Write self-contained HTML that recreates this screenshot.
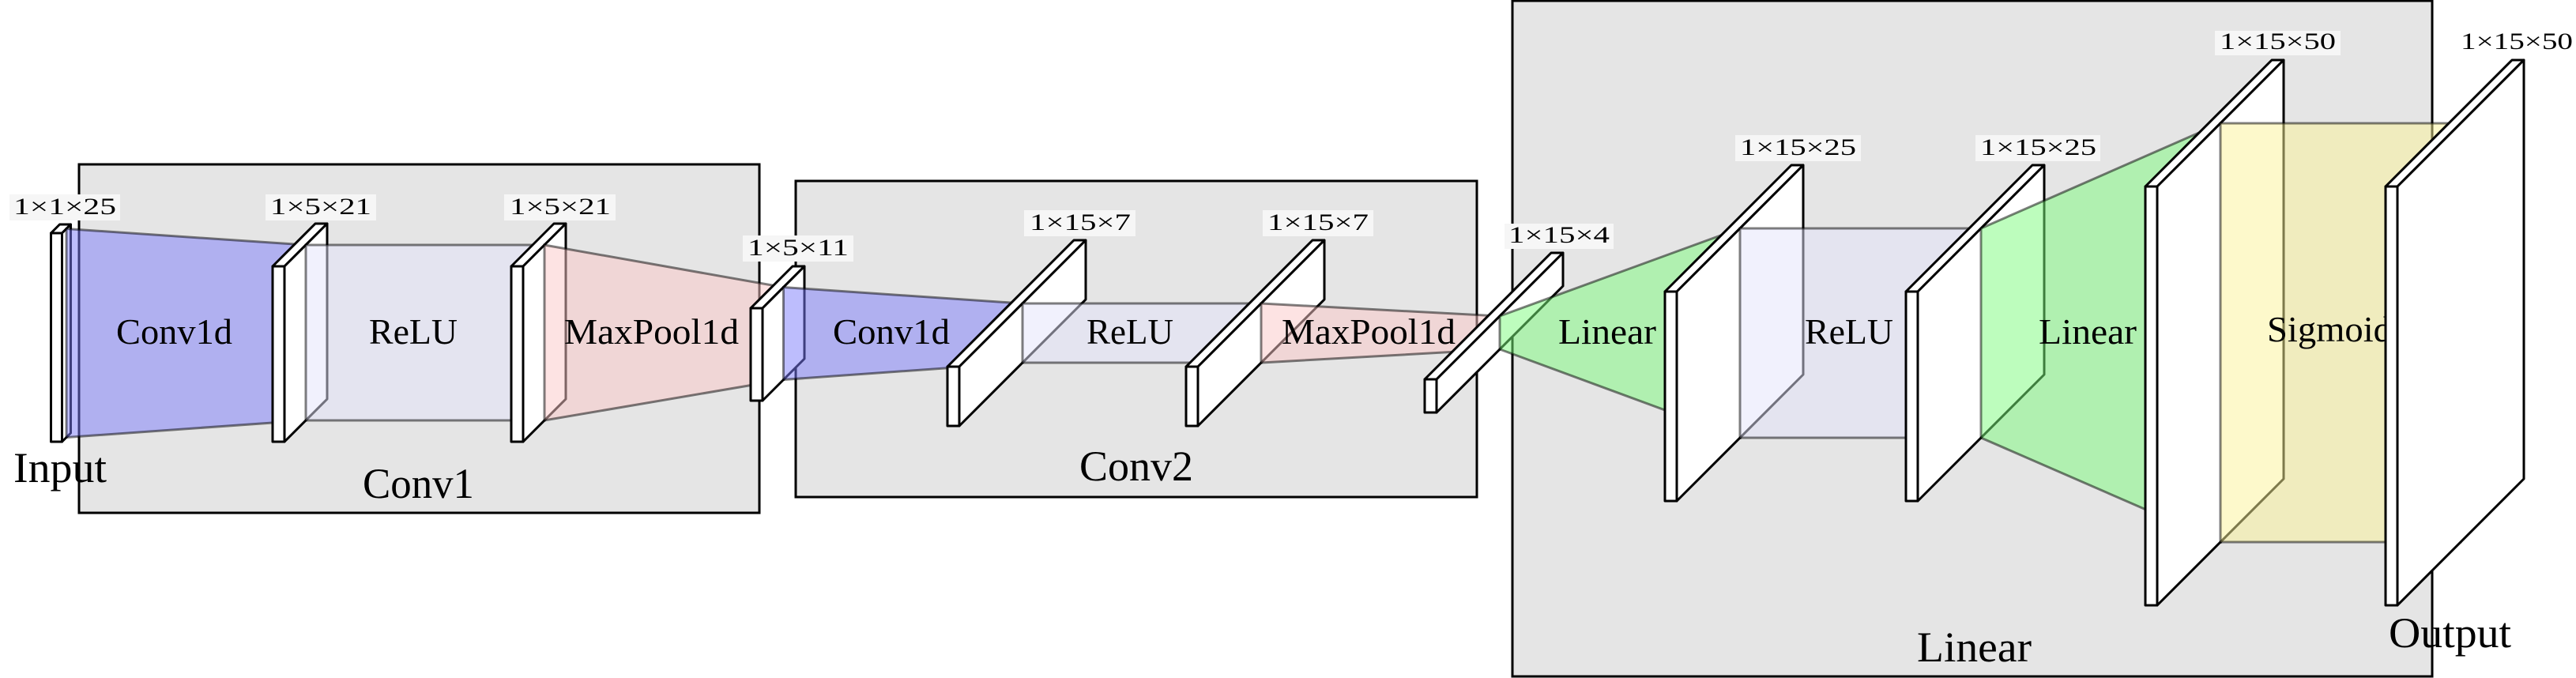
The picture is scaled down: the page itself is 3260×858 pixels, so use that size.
<!DOCTYPE html>
<html><head><meta charset="utf-8"><style>
html,body{margin:0;padding:0;background:#fff;}
svg{display:block;}
text{font-family:"Liberation Serif",serif;fill:#000;}
.s{fill:#fff;stroke:#000;stroke-width:3;stroke-linejoin:round;}
.f{stroke:rgba(0,0,0,0.5);stroke-width:3;}
.lb{fill:#f6f6f6;}
.dim{font-size:30px;}
.fl{font-size:46px;}
.tt{font-size:54px;}
</style></head><body>
<svg width="3260" height="858" viewBox="0 0 3260 858" xmlns="http://www.w3.org/2000/svg" font-family="Liberation Serif, serif">
<!-- group boxes -->
<rect x="100" y="208" width="861" height="441" fill="#e5e5e5" stroke="#000" stroke-width="3"/>
<rect x="1007" y="229" width="862" height="400" fill="#e5e5e5" stroke="#000" stroke-width="3"/>
<rect x="1914" y="1" width="1164" height="855" fill="#e5e5e5" stroke="#000" stroke-width="3"/>
<text class="tt" x="459" y="630" textLength="141" lengthAdjust="spacingAndGlyphs">Conv1</text>
<text class="tt" x="1366" y="608" textLength="144" lengthAdjust="spacingAndGlyphs">Conv2</text>
<text class="tt" x="2426" y="837" textLength="145" lengthAdjust="spacingAndGlyphs">Linear</text>
<text class="tt" x="17" y="610" textLength="118" lengthAdjust="spacingAndGlyphs">Input</text>

<!-- dim labels -->
<rect class="lb" x="12" y="246" width="140" height="33"/><text class="dim" x="17" y="271" textLength="130" lengthAdjust="spacingAndGlyphs">1×1×25</text>
<rect class="lb" x="336" y="246" width="140" height="33"/><text class="dim" x="342" y="271" textLength="128" lengthAdjust="spacingAndGlyphs">1×5×21</text>
<rect class="lb" x="638" y="246" width="141" height="33"/><text class="dim" x="645" y="271" textLength="128" lengthAdjust="spacingAndGlyphs">1×5×21</text>
<rect class="lb" x="940" y="298" width="140" height="33"/><text class="dim" x="946" y="323" textLength="128" lengthAdjust="spacingAndGlyphs">1×5×11</text>
<rect class="lb" x="1296" y="266" width="141" height="33"/><text class="dim" x="1303" y="291" textLength="128" lengthAdjust="spacingAndGlyphs">1×15×7</text>
<rect class="lb" x="1598" y="266" width="140" height="33"/><text class="dim" x="1604" y="291" textLength="128" lengthAdjust="spacingAndGlyphs">1×15×7</text>
<rect class="lb" x="1904" y="283" width="138" height="32"/><text class="dim" x="1909" y="307" textLength="128" lengthAdjust="spacingAndGlyphs">1×15×4</text>
<rect class="lb" x="2196" y="171" width="159" height="33"/><text class="dim" x="2202" y="196" textLength="147" lengthAdjust="spacingAndGlyphs">1×15×25</text>
<rect class="lb" x="2500" y="171" width="158" height="33"/><text class="dim" x="2506" y="196" textLength="147" lengthAdjust="spacingAndGlyphs">1×15×25</text>
<rect class="lb" x="2803" y="39" width="159" height="31"/><text class="dim" x="2809" y="62" textLength="147" lengthAdjust="spacingAndGlyphs">1×15×50</text>
<text class="dim" x="3114" y="62" textLength="142" lengthAdjust="spacingAndGlyphs">1×15×50</text>

<!-- S0 -->
<rect class="s" x="64.5" y="295" width="14" height="264"/>
<polygon class="s" points="64.5,295 78.5,295 89.5,284 75.5,284"/>
<polygon class="s" points="78.5,295 89.5,284 89.5,548 78.5,559"/>
<polygon class="f" fill="rgba(124,124,252,0.5)" points="84,289.5 387,310 387,532 84,553.5"/>
<text class="fl" x="147" y="435" textLength="147" lengthAdjust="spacingAndGlyphs">Conv1d</text>
<!-- S1 -->
<rect class="s" x="345" y="337" width="15" height="222"/>
<polygon class="s" points="345,337 360,337 414,283 399,283"/>
<polygon class="s" points="360,337 414,283 414,505 360,559"/>
<polygon class="f" fill="rgba(228,228,252,0.5)" points="387,310 689,310 689,532 387,532"/>
<text class="fl" x="467" y="435" textLength="112" lengthAdjust="spacingAndGlyphs">ReLU</text>
<!-- S2 -->
<rect class="s" x="647" y="337" width="15" height="222"/>
<polygon class="s" points="647,337 662,337 716,283 701,283"/>
<polygon class="s" points="662,337 716,283 716,505 662,559"/>
<polygon class="f" fill="rgba(252,200,200,0.5)" points="689,310 991.5,363.5 991.5,480.5 689,532"/>
<text class="fl" x="714" y="435" textLength="221" lengthAdjust="spacingAndGlyphs">MaxPool1d</text>
<!-- S3 -->
<rect class="s" x="950" y="390" width="15" height="117"/>
<polygon class="s" points="950,390 965,390 1018,337 1003,337"/>
<polygon class="s" points="965,390 1018,337 1018,454 965,507"/>
<polygon class="f" fill="rgba(124,124,252,0.5)" points="991.5,363.5 1294,384 1294,459 991.5,480.5"/>
<text class="fl" x="1054" y="435" textLength="148" lengthAdjust="spacingAndGlyphs">Conv1d</text>
<!-- S4 -->
<rect class="s" x="1199" y="464" width="15" height="75"/>
<polygon class="s" points="1199,464 1214,464 1374,304 1359,304"/>
<polygon class="s" points="1214,464 1374,304 1374,379 1214,539"/>
<polygon class="f" fill="rgba(228,228,252,0.5)" points="1294,384 1596,384 1596,459 1294,459"/>
<text class="fl" x="1375" y="435" textLength="110" lengthAdjust="spacingAndGlyphs">ReLU</text>
<!-- S5 -->
<rect class="s" x="1501" y="464" width="15" height="75"/>
<polygon class="s" points="1501,464 1516,464 1676,304 1661,304"/>
<polygon class="s" points="1516,464 1676,304 1676,379 1516,539"/>
<polygon class="f" fill="rgba(252,200,200,0.5)" points="1596,384 1898,400 1898,442 1596,459"/>
<text class="fl" x="1622" y="435" textLength="220" lengthAdjust="spacingAndGlyphs">MaxPool1d</text>
<!-- S6 -->
<rect class="s" x="1803" y="480" width="15" height="42"/>
<polygon class="s" points="1803,480 1818,480 1978,320 1963,320"/>
<polygon class="s" points="1818,480 1978,320 1978,362 1818,522"/>
<polygon class="f" fill="rgba(124,252,124,0.5)" points="1898,400 2202,289 2202,554 1898,442"/>
<text class="fl" x="1972" y="435" textLength="124" lengthAdjust="spacingAndGlyphs">Linear</text>
<!-- S7 -->
<rect class="s" x="2107" y="369" width="15" height="265"/>
<polygon class="s" points="2107,369 2122,369 2282,209 2267,209"/>
<polygon class="s" points="2122,369 2282,209 2282,474 2122,634"/>
<polygon class="f" fill="rgba(228,228,252,0.5)" points="2202,289 2507,289 2507,554 2202,554"/>
<text class="fl" x="2284" y="435" textLength="112" lengthAdjust="spacingAndGlyphs">ReLU</text>
<!-- S8 -->
<rect class="s" x="2412" y="369" width="15" height="265"/>
<polygon class="s" points="2412,369 2427,369 2587,209 2572,209"/>
<polygon class="s" points="2427,369 2587,209 2587,474 2427,634"/>
<polygon class="f" fill="rgba(124,252,124,0.5)" points="2507,289 2810,156 2810,686 2507,554"/>
<text class="fl" x="2580" y="435" textLength="124" lengthAdjust="spacingAndGlyphs">Linear</text>
<!-- S9 -->
<rect class="s" x="2715" y="236" width="15" height="530"/>
<polygon class="s" points="2715,236 2730,236 2890,76 2875,76"/>
<polygon class="s" points="2730,236 2890,76 2890,606 2730,766"/>
<polygon class="f" fill="rgba(252,244,152,0.5)" points="2810,156 3114,156 3114,686 2810,686"/>
<text class="fl" x="2869" y="432" textLength="158" lengthAdjust="spacingAndGlyphs">Sigmoid</text>
<!-- S10 -->
<rect class="s" x="3019" y="236" width="15" height="530"/>
<polygon class="s" points="3019,236 3034,236 3194,76 3179,76"/>
<polygon class="s" points="3034,236 3194,76 3194,606 3034,766"/>
<text class="tt" x="3023" y="819" textLength="155" lengthAdjust="spacingAndGlyphs">Output</text>
</svg>
</body></html>
